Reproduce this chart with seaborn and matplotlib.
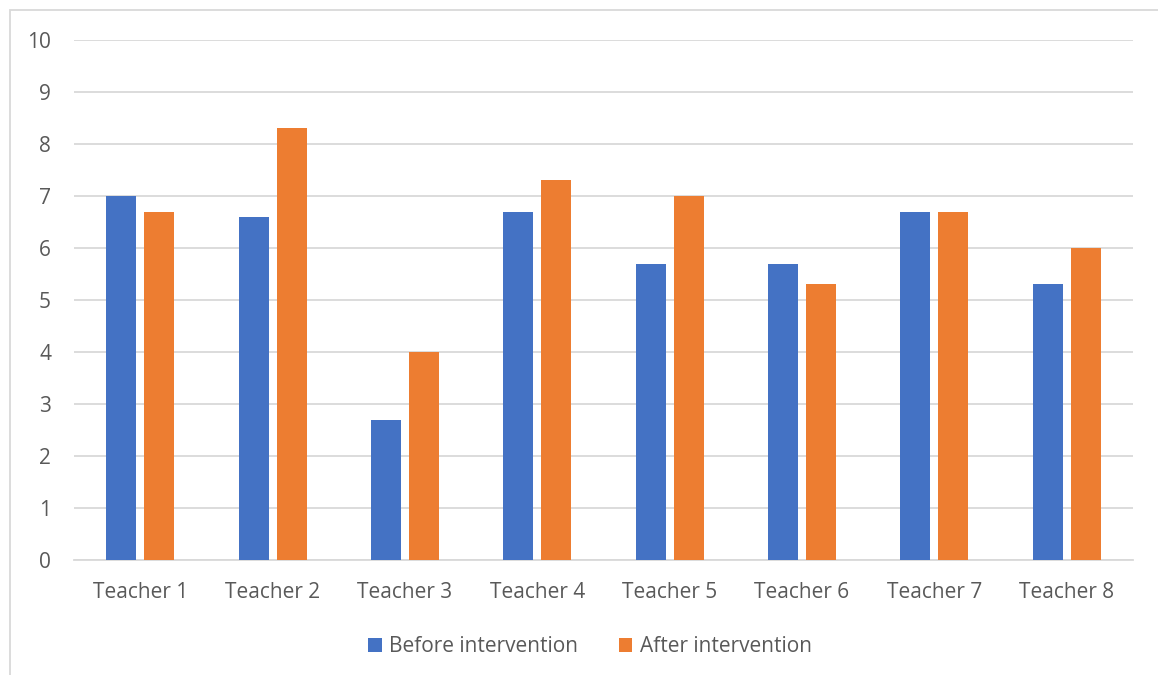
import matplotlib
matplotlib.use("Agg")
import matplotlib.pyplot as plt
import seaborn as sns
import pandas as pd
from matplotlib.patches import Rectangle, Patch

teachers = ["Teacher 1", "Teacher 2", "Teacher 3", "Teacher 4",
            "Teacher 5", "Teacher 6", "Teacher 7", "Teacher 8"]
before = [7.0, 6.6, 2.7, 6.7, 5.7, 5.7, 6.7, 5.3]
after = [6.7, 8.3, 4.0, 7.3, 7.0, 5.3, 6.7, 6.0]
series = ["Before intervention", "After intervention"]
y_ticks = list(range(0, 11))

df = pd.DataFrame({
    "teacher": teachers * 2,
    "value": before + after,
    "series": [series[0]] * len(teachers) + [series[1]] * len(teachers),
})

sns.set_theme(style="white")
plt.rcParams["font.family"] = ["Open Sans", "DejaVu Sans"]

text_color = "#595959"
grid_color = "#d9d9d9"
palette = {series[0]: "#4472c4", series[1]: "#ed7d31"}
font_size = 15

fig = plt.figure(figsize=(11.58, 6.75), dpi=100)
ax = fig.add_axes([74 / 1158, 1 - 560 / 675, (1133 - 74) / 1158, (560 - 40) / 675])

sns.barplot(data=df, x="teacher", y="value", hue="series", palette=palette,
            width=0.574, gap=0.21, saturation=1, ax=ax, legend=False,
            linewidth=0, zorder=3)

ax.set_ylim(0, 10)
ax.set_yticks(y_ticks)
ax.set_xlim(-0.5, len(teachers) - 0.5)
ax.yaxis.grid(True, color=grid_color, linewidth=1.3, zorder=0)
ax.set_axisbelow(True)
for side in ["top", "right", "left"]:
    ax.spines[side].set_visible(False)
ax.spines["bottom"].set_color(grid_color)
ax.spines["bottom"].set_linewidth(1.3)
ax.set_xlabel("")
ax.set_ylabel("")
ax.tick_params(axis="both", length=0, labelsize=font_size, colors=text_color)
ax.tick_params(axis="x", pad=16)
ax.tick_params(axis="y", pad=16.5)

handles = [Patch(facecolor=palette[s], edgecolor="none") for s in series]
fig.legend(handles, series, loc="center", bbox_to_anchor=(590 / 1158, 1 - 647 / 675),
           ncol=2, frameon=False, fontsize=font_size, labelcolor=text_color,
           handlelength=0.63, handleheight=0.63, handletextpad=0.34,
           columnspacing=2.0)

# chart frame
fig.patches.append(Rectangle((10 / 1158, -0.1), 1.2, 1 - 10 / 675 + 0.1,
                             transform=fig.transFigure, fill=False,
                             edgecolor=grid_color, linewidth=1.3))

fig.savefig("out.png", dpi=100, facecolor="white")
